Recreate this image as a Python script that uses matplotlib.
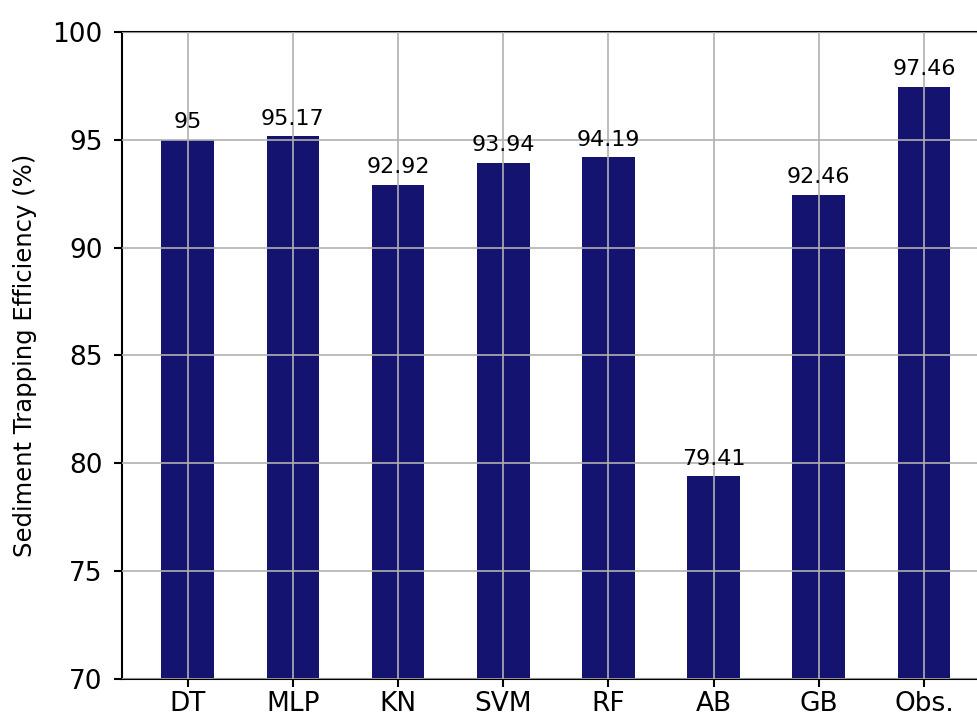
import matplotlib
matplotlib.use('Agg')
import matplotlib.pyplot as plt
import numpy as np

models = ['DT', 'MLP', 'KN', 'SVM', 'RF', 'AB', 'GB', 'Obs.']
efficiency = [95, 95.17, 92.92, 93.94, 94.19, 79.41, 92.46, 97.46]
yticks = [70, 75, 80, 85, 90, 95, 100]

fig = plt.figure(figsize=(9.77, 7.17), dpi=100)
ax = fig.add_axes([0.1249, 0.053, 0.888, 0.9024])

x = np.arange(len(models))
bars = ax.bar(x, efficiency, width=0.5, color='#141470')

# value on top of each bar
for xi, v in zip(x, efficiency):
    ax.text(xi, v + 0.35, f'{v:g}', ha='center', va='bottom', fontsize=16)

ax.set_xticks(x)
ax.set_xticklabels(models, fontsize=19)
ax.set_yticks(yticks)
ax.set_yticklabels([str(t) for t in yticks], fontsize=19)
ax.set_ylim(70, 100)
ax.set_xlim(-0.625, 7.625)
ax.set_ylabel('Sediment Trapping Efficiency (%)', fontsize=17.5, labelpad=11)
ax.grid(True, color='#b0b0b0', linewidth=1.2)
ax.set_axisbelow(False)
for s in ax.spines.values():
    s.set_linewidth(1.5)
ax.tick_params(axis='y', width=1.5, length=6, pad=8)
ax.tick_params(axis='x', width=1.5, length=6, pad=3)

fig.savefig('out.png', dpi=100)
